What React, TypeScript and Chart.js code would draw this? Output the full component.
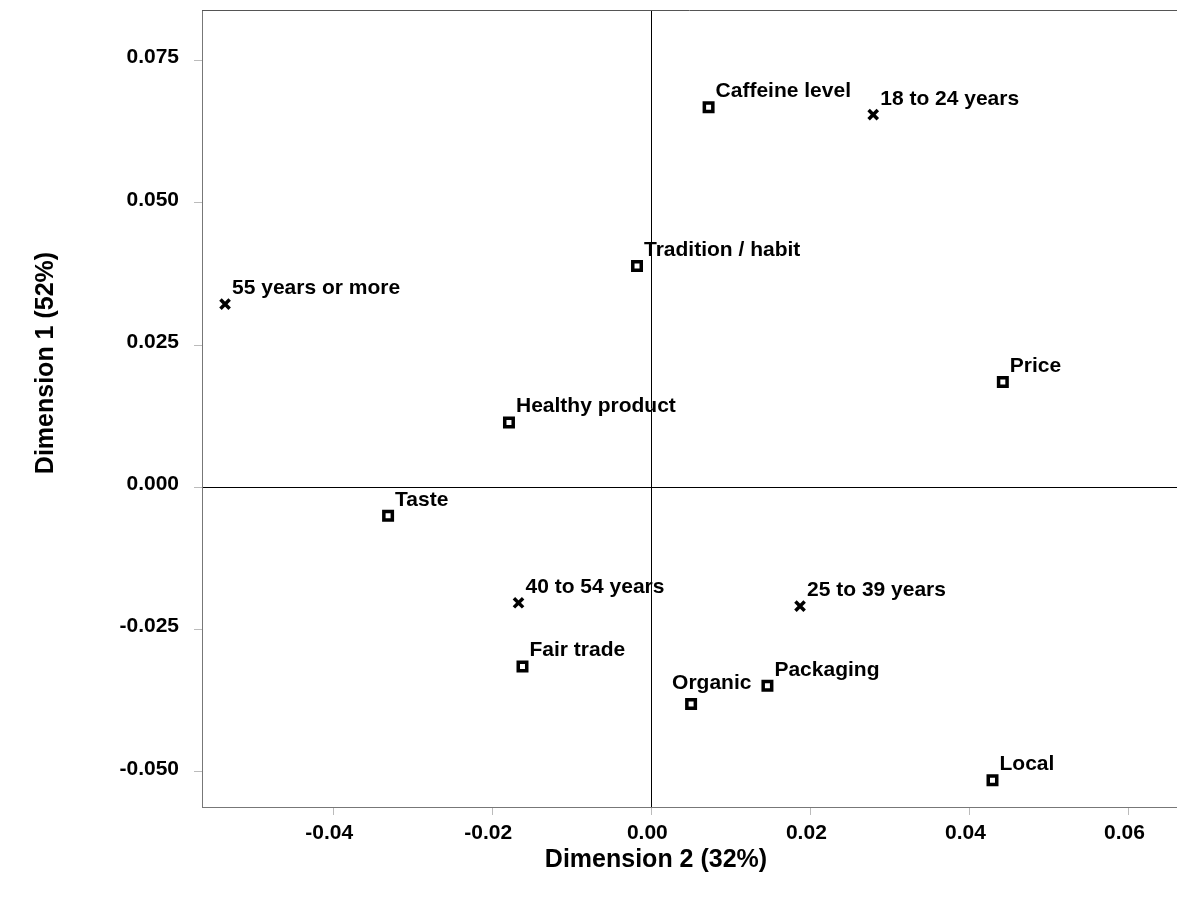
import { useEffect, useRef } from 'react';
import { Chart, registerables } from 'chart.js';

Chart.register(...registerables);

// ---- Data ----
const attributeLabels = [
  'Caffeine level',
  'Tradition / habit',
  'Price',
  'Healthy product',
  'Taste',
  'Fair trade',
  'Organic',
  'Packaging',
  'Local',
];
const attributeDim2 = [0.0072, -0.0018, 0.0442, -0.0179, -0.0331, -0.0162, 0.005, 0.0146, 0.0429];
const attributeDim1 = [0.0668, 0.0389, 0.0185, 0.0114, -0.005, -0.0315, -0.0381, -0.0349, -0.0515];

const ageLabels = ['18 to 24 years', '55 years or more', '40 to 54 years', '25 to 39 years'];
const ageDim2 = [0.0279, -0.0536, -0.0167, 0.0187];
const ageDim1 = [0.0655, 0.0322, -0.0203, -0.0209];

const xTickValues = [-0.04, -0.02, 0, 0.02, 0.04, 0.06];
const yTickValues = [0.075, 0.05, 0.025, 0, -0.025, -0.05];

const xAxisTitle = 'Dimension 2 (32%)';
const yAxisTitle = 'Dimension 1 (52%)';

const X_MIN = -0.0565;
const X_MAX = 0.0661;
const Y_MIN = -0.0562;
const Y_MAX = 0.0839;

const FONT = '"Liberation Sans", Arial, Helvetica, sans-serif';

const labelPlugin = {
  id: 'pointLabels',
  afterDatasetsDraw(chart: any) {
    const ctx = chart.ctx;
    ctx.save();
    ctx.font = `bold 21px ${FONT}`;
    ctx.fillStyle = '#000';
    ctx.textBaseline = 'alphabetic';
    ctx.textAlign = 'left';
    chart.data.datasets.forEach((ds: any, i: number) => {
      const meta = chart.getDatasetMeta(i);
      meta.data.forEach((el: any, j: number) => {
        const text = ds.pointLabels[j];
        let dx = 7;
        let dy = -10;
        if (text === 'Organic') {
          dx = -19;
          dy = -15;
        }
        ctx.fillText(text, el.x + dx, el.y + dy);
      });
    });
    ctx.restore();
  },
};

const framePlugin = {
  id: 'frameAndTitles',
  afterDraw(chart: any) {
    const ctx = chart.ctx;
    const a = chart.chartArea;
    ctx.save();
    ctx.strokeStyle = '#555';
    ctx.lineWidth = 1;
    ctx.beginPath();
    ctx.moveTo(a.left, Math.round(a.top) + 0.5);
    ctx.lineTo(a.right, Math.round(a.top) + 0.5);
    ctx.stroke();

    ctx.fillStyle = '#000';
    ctx.font = `bold 25px ${FONT}`;
    ctx.textAlign = 'center';
    ctx.textBaseline = 'middle';
    ctx.fillText(xAxisTitle, 656, 860);
    ctx.translate(46, 363);
    ctx.rotate(-Math.PI / 2);
    ctx.fillText(yAxisTitle, 0, 0);
    ctx.restore();
  },
};

const noPadding = (s: any) => {
  s.paddingTop = 0;
  s.paddingBottom = 0;
  s.paddingLeft = 0;
  s.paddingRight = 0;
};

export default function App() {
  const ref = useRef<HTMLCanvasElement>(null);

  useEffect(() => {
    if (!ref.current) return;
    const zeroLine = (c: any) => (c.tick && c.tick.value === 0 ? '#000' : 'rgba(0,0,0,0)');
    const chart = new Chart(ref.current, {
      type: 'scatter',
      data: {
        datasets: [
          {
            label: 'Attributes',
            data: attributeDim2.map((x, i) => ({ x, y: attributeDim1[i] })),
            pointStyle: 'rect',
            pointRadius: 6,
            pointBorderWidth: 3.5,
            pointBorderColor: '#000',
            pointBackgroundColor: '#fff',
            pointLabels: attributeLabels,
          } as any,
          {
            label: 'Age',
            data: ageDim2.map((x, i) => ({ x, y: ageDim1[i] })),
            pointStyle: 'crossRot',
            pointRadius: 6.5,
            pointBorderWidth: 3.5,
            pointBorderColor: '#000',
            pointBackgroundColor: '#000',
            pointLabels: ageLabels,
          } as any,
        ],
      },
      options: {
        animation: false,
        responsive: false,
        devicePixelRatio: 1,
        events: [],
        layout: { autoPadding: false, padding: { top: 10, right: 0, left: 0, bottom: 0 } },
        plugins: {
          legend: { display: false },
          tooltip: { enabled: false },
        },
        scales: {
          x: {
            type: 'linear',
            min: X_MIN,
            max: X_MAX,
            afterBuildTicks: (s: any) => {
              s.ticks = xTickValues.map((v) => ({ value: v }));
            },
            afterFit: (s: any) => {
              s.height = 90;
              noPadding(s);
            },
            ticks: {
              callback: (v: any) => Number(v).toFixed(2),
              font: { family: FONT, size: 21, weight: 'bold' },
              color: '#000',
              padding: 6,
              labelOffset: -4,
              autoSkip: false,
              maxRotation: 0,
            },
            grid: {
              drawOnChartArea: true,
              color: zeroLine,
              tickColor: '#bbb',
              tickLength: 8,
              lineWidth: 1,
            },
            border: { display: true, color: '#777', width: 1 },
          },
          y: {
            type: 'linear',
            min: Y_MIN,
            max: Y_MAX,
            afterBuildTicks: (s: any) => {
              s.ticks = yTickValues.map((v) => ({ value: v }));
            },
            afterFit: (s: any) => {
              s.width = 202;
              noPadding(s);
            },
            ticks: {
              callback: (v: any) => Number(v).toFixed(3),
              font: { family: FONT, size: 21, weight: 'bold' },
              color: '#000',
              padding: 15,
              labelOffset: -3,
              autoSkip: false,
            },
            grid: {
              drawOnChartArea: true,
              color: zeroLine,
              tickColor: '#bbb',
              tickLength: 8,
              lineWidth: 1,
            },
            border: { display: true, color: '#777', width: 1 },
          },
        },
      } as any,
      plugins: [labelPlugin, framePlugin],
    });
    return () => chart.destroy();
  }, []);

  return (
    <div style={{ position: 'fixed', left: 0, top: 0, width: 1177, height: 897, background: '#fff' }}>
      <canvas ref={ref} width={1177} height={897} style={{ display: 'block', width: 1177, height: 897 }} />
    </div>
  );
}
